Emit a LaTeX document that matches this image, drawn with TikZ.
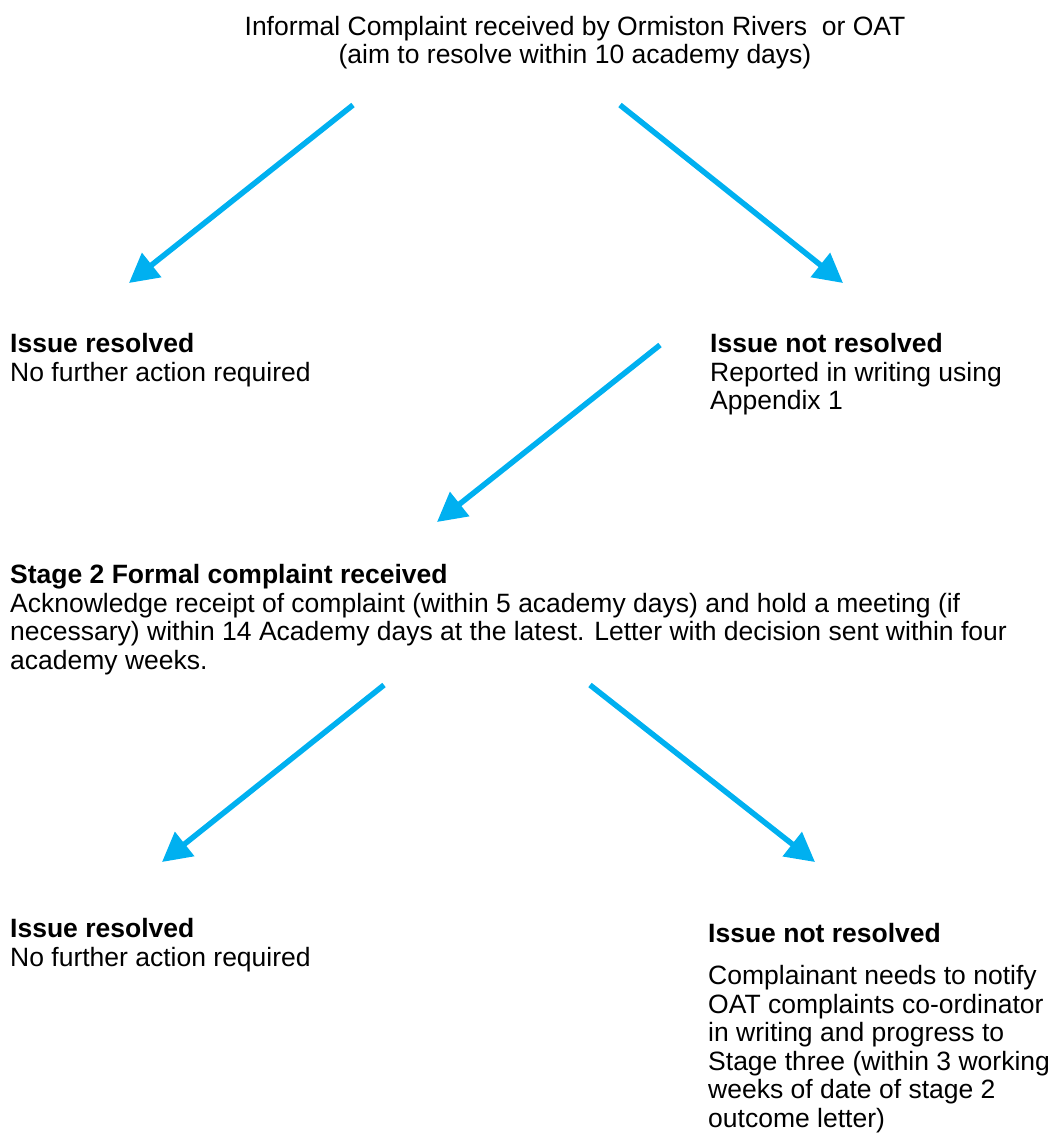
\documentclass[tikz,border=0pt]{standalone}
\usepackage{fontspec}
\setmainfont{Liberation Sans}
\usetikzlibrary{arrows.meta}
\definecolor{arrowblue}{RGB}{0,176,240}
\setlength{\lineskiplimit}{-50pt}

\tikzset{
  flow/.style={arrowblue, line width=5.5pt, -{Triangle[length=29pt,width=30pt]}},
  txt/.style={anchor=north west, align=left, inner sep=0pt, font=\fontsize{26.5}{28.6}\selectfont}
}

\begin{document}
\begin{tikzpicture}[x=1pt,y=-1pt]
\useasboundingbox (0,0) rectangle (1054,1140);

%texts (top = first baseline - 19)
\node[txt, anchor=north, align=center, font=\fontsize{26.5}{28}\selectfont] (informal) at (575,16) {Informal Complaint received by Ormiston Rivers~ or OAT\\(aim to resolve within 10 academy days)};
\node[txt] (resolvedA) at (10,333) {\textbf{Issue resolved}\\No further action required};
\node[txt] (notresolvedA) at (710,333) {\textbf{Issue not resolved}\\Reported in writing using\\Appendix 1};
\node[txt] (stagetwo) at (10,564) {\textbf{Stage 2 Formal complaint received}\\Acknowledge receipt of complaint (within 5 academy days) and hold a meeting (if\\necessary) within 14 Academy days at the latest. Letter with decision sent within four\\academy weeks.};
\node[txt] (resolvedB) at (10,918) {\textbf{Issue resolved}\\No further action required};
\node[txt] (notresolvedB) at (708,923) {\textbf{Issue not resolved}\\[13.4pt]Complainant needs to notify\\OAT complaints co-ordinator\\in writing and progress to\\Stage three (within 3 working\\weeks of date of stage 2\\outcome letter)};
%fin

%arrows
\coordinate (s1) at (353,105); \coordinate (e1) at (129,283);
\coordinate (s2) at (620,105); \coordinate (e2) at (843,283);
\coordinate (s3) at (660,345); \coordinate (e3) at (437,522);
\coordinate (s4) at (384,685); \coordinate (e4) at (162,862);
\coordinate (s5) at (590,685); \coordinate (e5) at (815,862);
\foreach \i in {1,...,5} \draw[flow] (s\i) -- (e\i);
%fin
\end{tikzpicture}
\end{document}
